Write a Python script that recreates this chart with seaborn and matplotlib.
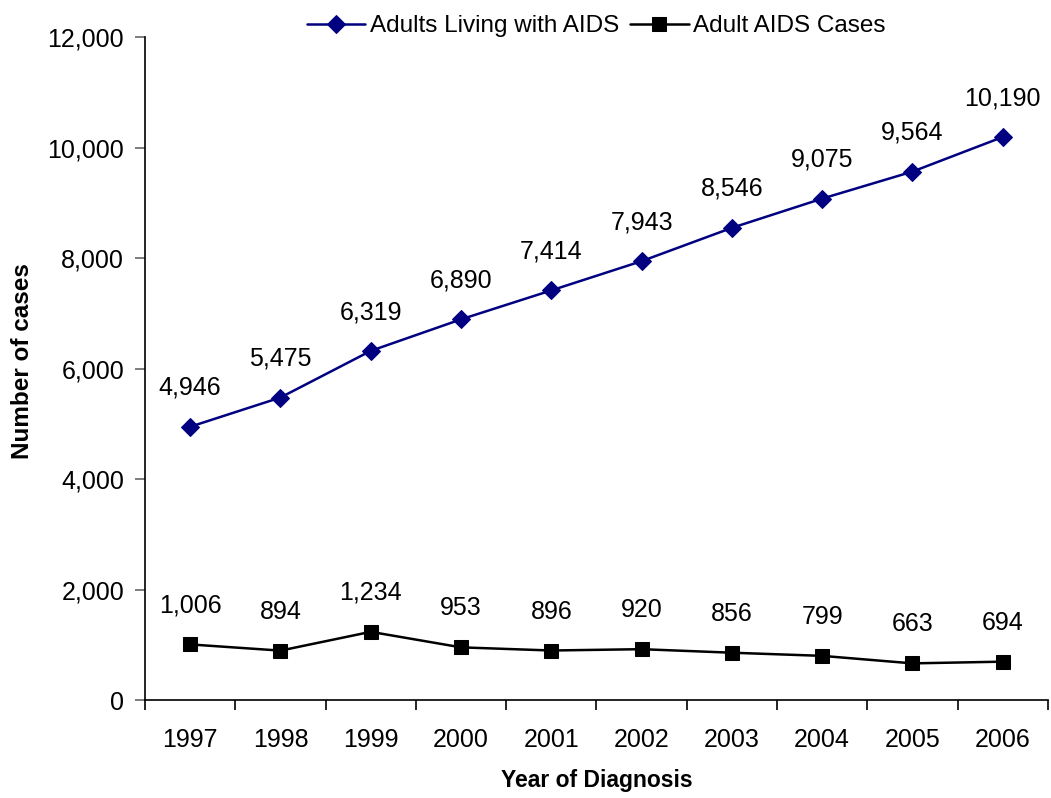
import matplotlib
matplotlib.use("Agg")
import matplotlib.pyplot as plt
import seaborn as sns
import pandas as pd
from matplotlib.ticker import FuncFormatter, FixedLocator

years = ["1997", "1998", "1999", "2000", "2001", "2002", "2003", "2004", "2005", "2006"]
living = [4946, 5475, 6319, 6890, 7414, 7943, 8546, 9075, 9564, 10190]
cases = [1006, 894, 1234, 953, 896, 920, 856, 799, 663, 694]
series_names = ["Adults Living with AIDS", "Adult AIDS Cases"]

sns.set_theme(style="white")
plt.rcParams["font.family"] = ["Liberation Sans", "DejaVu Sans"]
plt.rcParams["text.color"] = "black"
plt.rcParams["axes.labelcolor"] = "black"
plt.rcParams["xtick.color"] = "black"
plt.rcParams["ytick.color"] = "black"

df = pd.DataFrame({
    "year": years * 2,
    "value": living + cases,
    "series": [series_names[0]] * len(years) + [series_names[1]] * len(years),
})

fig = plt.figure(figsize=(10.51, 7.98), dpi=100)
ax = fig.add_axes([0.138, 0.1228, 0.859, 0.8308])

palette = {series_names[0]: "#000080", series_names[1]: "#000000"}
markers = {series_names[0]: "D", series_names[1]: "s"}
sizes = {series_names[0]: 9, series_names[1]: 9.5}

for name in series_names:
    sub = df[df["series"] == name]
    sns.lineplot(data=sub, x="year", y="value", ax=ax, color=palette[name],
                 marker=markers[name], markersize=sizes[name], linewidth=1.8,
                 markeredgecolor=palette[name], label=name, sort=False)
    # value labels above each point
    for x, v in zip(sub["year"], sub["value"]):
        ax.annotate(f"{v:,}", (x, v), xytext=(0, 28), textcoords="offset points",
                    ha="center", va="center", fontsize=18, color="black")

ax.set_xlim(-0.5, len(years) - 0.5)
ax.set_ylim(0, 12000)
ax.yaxis.set_major_locator(FixedLocator(range(0, 12001, 2000)))
ax.yaxis.set_major_formatter(FuncFormatter(lambda v, p: f"{int(v):,}"))

# year labels centred in their slots, tick marks on slot boundaries
ax.set_xticks(range(len(years)))
ax.set_xticklabels(years)
ax.set_xticks([i - 0.5 for i in range(len(years) + 1)], minor=True)
ax.tick_params(axis="x", which="major", bottom=True, length=0, pad=20, labelsize=18,
               labelcolor="black")
ax.tick_params(axis="x", which="minor", bottom=True, length=7, width=1.2,
               color="black", direction="out")
ax.tick_params(axis="y", which="major", left=True, length=7, width=1.2, color="#666666",
               direction="out", labelsize=18, pad=8, labelcolor="black")

for s in ["top", "right"]:
    ax.spines[s].set_visible(False)
for s in ["left", "bottom"]:
    ax.spines[s].set_color("black")
    ax.spines[s].set_linewidth(1.2)

ax.set_xlabel("Year of Diagnosis", fontsize=16.5, fontweight="bold")
ax.set_ylabel("Number of cases", fontsize=17.5, fontweight="bold")
ax.xaxis.label.set_verticalalignment("center")
ax.yaxis.label.set_verticalalignment("center")
ax.xaxis.set_label_coords(0.5, -0.122)
ax.yaxis.set_label_coords(-0.136, 0.511)

ax.legend(loc="lower center", bbox_to_anchor=(0.5, 0.985), ncol=2, frameon=False,
          fontsize=17.5, handlelength=2.4, columnspacing=0.45, handletextpad=0.2,
          borderaxespad=0, labelcolor="black")

fig.savefig("out.png", dpi=100)
